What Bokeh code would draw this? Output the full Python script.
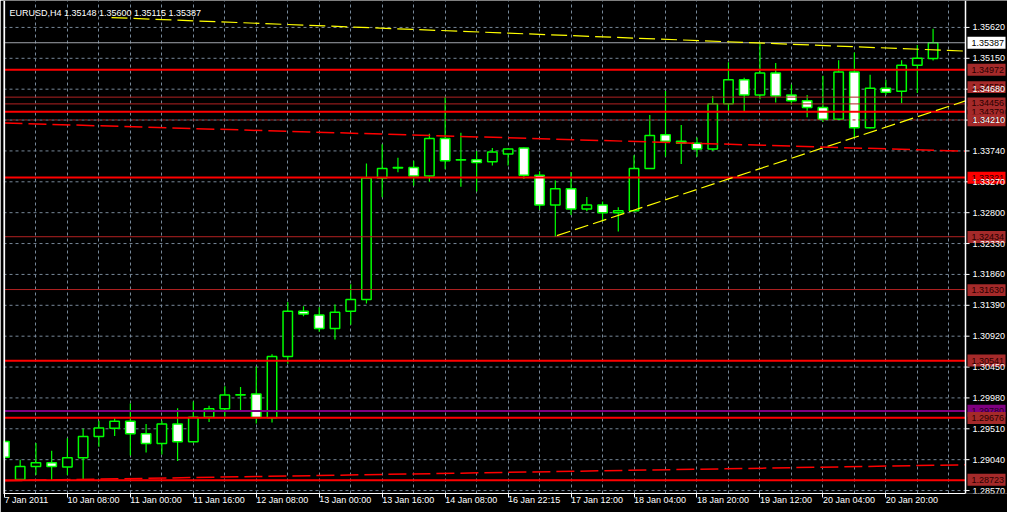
from bokeh.plotting import figure
from bokeh.models import Range1d, FixedTicker, Span
from bokeh.core.properties import value
from bokeh.embed import file_html
from bokeh.resources import INLINE

# ---------------- data ----------------
title_text = "EURUSD,H4  1.35148 1.35600 1.35115 1.35387"

bar_index = list(range(60))
opens = [1.29318, 1.28739, 1.28936, 1.28995, 1.28930, 1.29068, 1.29391, 1.29518, 1.29626, 1.29435,
         1.29288, 1.29582, 1.29312, 1.29685, 1.29817, 1.30023, 1.30038, 1.29679, 1.30610, 1.31301,
         1.31242, 1.31036, 1.31301, 1.31477, 1.33327, 1.33479, 1.33489, 1.33357, 1.33930, 1.33601,
         1.33606, 1.33577, 1.33695, 1.33783, 1.33371, 1.32916, 1.33166, 1.32857, 1.32916, 1.32799,
         1.32828, 1.33474, 1.33988, 1.33886, 1.33856, 1.33768, 1.34458, 1.34825, 1.34590, 1.34928,
         1.34590, 1.34502, 1.34400, 1.34223, 1.34943, 1.34091, 1.34693, 1.34649, 1.35046, 1.35148]
highs = [1.29337, 1.29039, 1.29293, 1.29175, 1.29366, 1.29509, 1.29631, 1.29670, 1.29895, 1.29582,
         1.29631, 1.29822, 1.29924, 1.29861, 1.30159, 1.30145, 1.30453, 1.30644, 1.31440, 1.31374,
         1.31359, 1.31403, 1.31712, 1.33548, 1.33841, 1.33636, 1.33592, 1.34003, 1.34566, 1.34018,
         1.33739, 1.33783, 1.33780, 1.33794, 1.33430, 1.33288, 1.33420, 1.33038, 1.32969, 1.32881,
         1.33674, 1.34286, 1.34654, 1.34135, 1.33944, 1.34576, 1.35090, 1.34855, 1.35373, 1.35080,
         1.34752, 1.34590, 1.34884, 1.35119, 1.35237, 1.34899, 1.34825, 1.35119, 1.35354, 1.35600]
lows = [1.29033, 1.28727, 1.28808, 1.28730, 1.28808, 1.28716, 1.29238, 1.29400, 1.29102, 1.29150,
        1.29117, 1.29018, 1.29300, 1.29612, 1.29694, 1.29767, 1.29591, 1.29606, 1.30502, 1.31224,
        1.30986, 1.30869, 1.31095, 1.31418, 1.33034, 1.33416, 1.33210, 1.33269, 1.33460, 1.33195,
        1.33122, 1.33518, 1.33518, 1.33313, 1.32843, 1.32431, 1.32763, 1.32822, 1.32666, 1.32514,
        1.32818, 1.33464, 1.33655, 1.33542, 1.33651, 1.33739, 1.34350, 1.34341, 1.34526, 1.34477,
        1.34444, 1.34253, 1.34179, 1.34209, 1.33944, 1.34081, 1.34590, 1.34467, 1.34620, 1.35115]
closes = [1.29077, 1.28936, 1.28995, 1.28936, 1.29068, 1.29391, 1.29523, 1.29626, 1.29435, 1.29288,
          1.29582, 1.29312, 1.29685, 1.29817, 1.30023, 1.30030, 1.29682, 1.30610, 1.31301, 1.31256,
          1.31036, 1.31286, 1.31477, 1.33327, 1.33474, 1.33486, 1.33357, 1.33930, 1.33592, 1.33606,
          1.33562, 1.33724, 1.33768, 1.33371, 1.32916, 1.33166, 1.32857, 1.32916, 1.32799, 1.32828,
          1.33474, 1.33974, 1.33886, 1.33856, 1.33768, 1.34458, 1.34825, 1.34590, 1.34928, 1.34576,
          1.34502, 1.34400, 1.34223, 1.34943, 1.34091, 1.34693, 1.34635, 1.35046, 1.35149, 1.35387]

time_tick_bars = [0, 4, 8, 12, 16, 20, 24, 28, 32, 36, 40, 44, 48, 52, 56]
time_tick_labels = ["7 Jan 2011", "10 Jan 08:00", "11 Jan 00:00", "11 Jan 16:00", "12 Jan 08:00",
                    "13 Jan 00:00", "13 Jan 16:00", "14 Jan 08:00", "16 Jan 22:15", "17 Jan 12:00",
                    "18 Jan 04:00", "18 Jan 20:00", "19 Jan 12:00", "20 Jan 04:00", "20 Jan 20:00"]
grid_bars = [2, 4, 6, 8, 10, 12, 14, 16, 18, 20, 22, 24, 26, 28, 30, 32, 34, 36, 38, 40,
             42, 44, 46, 48, 50, 52, 54, 56, 58, 60]

price_ticks = [1.35620, 1.35150, 1.34680, 1.34210, 1.33740, 1.33270, 1.32800, 1.32330,
               1.31860, 1.31390, 1.30920, 1.30450, 1.29980, 1.29510, 1.29040, 1.28570]
price_tick_labels = ["1.35620", "1.35150", "1.34680", "1.34210", "1.33740", "1.33270", "1.32800",
                     "1.32330", "1.31860", "1.31390", "1.30920", "1.30450", "1.29980", "1.29510",
                     "1.29040", "1.28570"]

# horizontal objects
level_prices = [1.35387, 1.34977, 1.34559, 1.34456, 1.34335, 1.33336, 1.32434, 1.31630,
                1.30545, 1.29780, 1.29678, 1.28725]
level_colors = ["#a0a4ac", "#ff0000", "#b22222", "#b22222", "#ff0000", "#ff0000", "#b22222",
                "#b22222", "#ff0000", "#800080", "#ff0000", "#ff0000"]
level_widths = [1, 2, 1, 1, 2, 2, 1, 1, 2, 2, 2, 2]
dashed_level = [1.34212]

# price tags on the right scale
tag_texts = ["1.35387", "1.34972", "1.34559", "1.34456", "1.34379", "1.34210", "1.33321",
             "1.32434", "1.31630", "1.30541", "1.29780", "1.29676", "1.28723"]
tag_prices = [1.35387, 1.34977, 1.34711, 1.34463, 1.34326, 1.34206, 1.33332,
              1.32429, 1.31621, 1.30549, 1.29785, 1.29675, 1.28735]
tag_bg = ["#ffffff", "#a52a2a", "#a52a2a", "#a52a2a", "#a52a2a", "#a52a2a", "#ff0000",
          "#a52a2a", "#a52a2a", "#a52a2a", "#800080", "#a52a2a", "#a52a2a"]
tag_fg = ["#000000", "#2a0000", "#2a0000", "#2a0000", "#2a0000", "#2a0000", "#2a0000",
          "#2a0000", "#2a0000", "#2a0000", "#200020", "#2a0000", "#2a0000"]

# indicator / trend lines (bar index, price)
upper_ma_x = [6.8, 61.06]
upper_ma_y = [1.35770, 1.35260]
trend_x = [35.1, 61.06]
trend_y = [1.32451, 1.34502]
mid_ma_x = [0.0, 61.06]
mid_ma_y = [1.34165, 1.33736]
low_ma_x = [0.0, 61.06]
low_ma_y = [1.28720, 1.28962]

# ---------------- geometry ----------------
W, H = 1007, 512
BL, BT, BB = 3, 0, 17
SCALE_W = 42                      # width of the price-scale column
frame_w = W - BL
frame_h = H - BT - BB
X_MIN, X_AXIS = -0.06, 61.06      # chart area in bar units; price scale line at X_AXIS
ppx = (frame_w - SCALE_W) / (X_AXIS - X_MIN)
X_END = X_MIN + frame_w / ppx
Y_MIN, Y_MAX = 1.28525, 1.36030
ppu = frame_h / (Y_MAX - Y_MIN)

FONT = "Liberation Sans"
GRID = "#778899"
FS = value("9px")

p = figure(width=W, height=H, x_range=Range1d(X_MIN, X_END), y_range=Range1d(Y_MIN, Y_MAX),
           output_backend="svg", toolbar_location=None, y_axis_location=None,
           background_fill_color="black", border_fill_color="black",
           min_border_left=BL, min_border_right=0, min_border_top=BT, min_border_bottom=BB,
           outline_line_color=None)

# vertical grid (library grid), horizontal grid stops at the price scale
p.xgrid.ticker = FixedTicker(ticks=grid_bars)
p.xgrid.grid_line_color = GRID
p.xgrid.grid_line_dash = "3 3"
p.ygrid.grid_line_color = None
p.segment(x0=X_MIN, y0=price_ticks, x1=X_AXIS, y1=price_ticks,
          line_color=GRID, line_width=1, line_dash="3 3")

# bottom time axis
xa = p.xaxis[0]
xa.ticker = FixedTicker(ticks=time_tick_bars)
xa.bounds = (X_MIN, X_AXIS)
xa.major_label_overrides = {b: t for b, t in zip(time_tick_bars, time_tick_labels)}
xa.axis_line_color = "white"
xa.major_tick_line_color = "white"
xa.major_tick_out = 4
xa.major_tick_in = 0
xa.minor_tick_line_color = None
xa.major_label_standoff = 2
xa.major_label_text_color = "white"
xa.major_label_text_font = FONT
xa.major_label_text_font_size = "9px"
xa.major_label_orientation = -0.0001

# left frame border
p.add_layout(Span(location=X_MIN + 0.04, dimension="height", line_color="white", line_width=2))

# candles
body_top = [max(o, c) for o, c in zip(opens, closes)]
body_bot = [min(o, c) for o, c in zip(opens, closes)]
fills = ["black" if c >= o else "white" for o, c in zip(opens, closes)]
p.segment(x0=bar_index, y0=lows, x1=bar_index, y1=highs, line_color="#00ff00", line_width=1.2)
p.vbar(x=bar_index, width=0.6, top=body_top, bottom=body_bot, fill_color=fills,
       line_color="#00ff00", line_width=1.5)

# horizontal levels
p.segment(x0=X_MIN, y0=level_prices, x1=X_AXIS, y1=level_prices,
          line_color=level_colors, line_width=level_widths)
p.segment(x0=X_MIN, y0=dashed_level, x1=X_AXIS, y1=dashed_level, line_color="#b22222",
          line_width=1, line_dash="3 3", line_dash_offset=3)

# indicator lines
p.line(upper_ma_x, upper_ma_y, line_color="#ffff00", line_width=1.2, line_dash="16 6")
p.line(trend_x, trend_y, line_color="#ffff00", line_width=1.2, line_dash="14 5")
p.line(mid_ma_x, mid_ma_y, line_color="#ff0000", line_width=1.5, line_dash="18 6")
p.line(low_ma_x, low_ma_y, line_color="#ff0000", line_width=1.5, line_dash="18 6")

# price scale: line and ticks
p.segment(x0=X_AXIS, y0=Y_MIN, x1=X_AXIS, y1=Y_MAX, line_color="white", line_width=1.5)
p.segment(x0=X_AXIS, y0=price_ticks, x1=X_AXIS + 4 / ppx, y1=price_ticks,
          line_color="white", line_width=1)

# price tags (box + text, one after another so later tags cover earlier ones)
half = 6 / ppu
for txt, yv, bg, fg in zip(tag_texts, tag_prices, tag_bg, tag_fg):
    p.quad(left=X_AXIS + 2 / ppx, right=X_AXIS + 40 / ppx, top=yv + half, bottom=yv - half,
           fill_color=bg, line_color=None)
    p.text(x=X_AXIS + 6 / ppx, y=yv, text=[txt], text_color=fg, text_font=value(FONT),
           text_font_size=FS, text_align="left", text_baseline="middle")

# price scale labels
p.text(x=X_AXIS + 7 / ppx, y=price_ticks, text=price_tick_labels, text_color="white",
       text_font=value(FONT), text_font_size=FS, text_align="left", text_baseline="middle")

# title
p.text(x=X_MIN + 6 / ppx, y=Y_MAX - 12.5 / ppu, text=[title_text], text_color="white",
       text_font=value(FONT), text_font_size=FS, text_align="left", text_baseline="middle")

open("out.html", "w").write(file_html(p, INLINE))
